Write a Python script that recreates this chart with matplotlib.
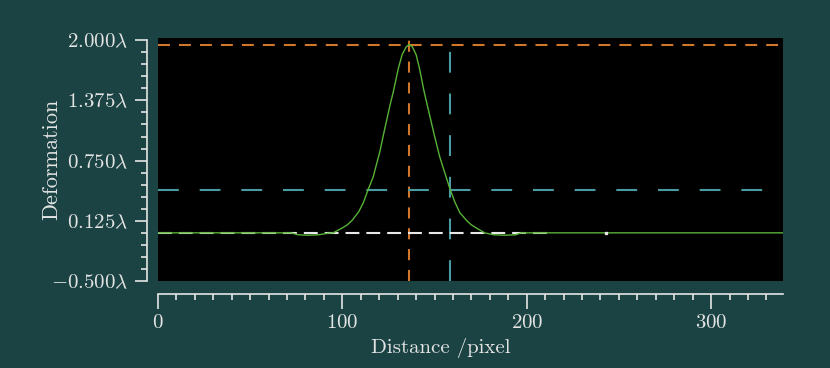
import matplotlib
matplotlib.use('Agg')
from matplotlib import pyplot as plt
from matplotlib.ticker import FixedLocator, MultipleLocator

plt.rcParams['font.family'] = 'cmr10'
plt.rcParams['mathtext.fontset'] = 'cm'
plt.rcParams['axes.formatter.use_mathtext'] = True
plt.rcParams['lines.scale_dashes'] = False

# profile (distance in pixel, deformation in wavelengths)
dist = [0, 20, 40, 60, 72, 76, 81, 87, 92, 95, 99.9, 102.8, 105.3, 108.9, 111.3, 114, 116.7,
        120.3, 122.3, 125.9, 127.7, 130.4, 132.4, 134.6, 136.3, 138.0, 140.0,
        141.8, 144.3, 146.0, 149.8, 152.8, 155.6, 158.3, 161, 163.7, 167.3,
        169.8, 172.7, 177.2, 182, 188, 194, 197, 250, 300, 339]
deform = [0, 0, 0, 0, 0, -0.02, -0.025, -0.02, -0.005, 0.0, 0.05, 0.085, 0.13, 0.22, 0.31, 0.45, 0.58,
          0.84, 1.02, 1.33, 1.47, 1.71, 1.85, 1.93, 1.957, 1.93, 1.85,
          1.71, 1.47, 1.33, 1.02, 0.79, 0.62, 0.46, 0.32, 0.21, 0.13,
          0.085, 0.05, 0.0, -0.02, -0.025, -0.02, 0, 0, 0, 0]

peak_x = 136.3
peak_y = 1.95
half_x = 158.4
half_y = 0.446
base_end = 211

yticks = [-0.5, 0.125, 0.75, 1.375, 2.0]
ylabels = [r'$-0.500\lambda$', r'$0.125\lambda$', r'$0.750\lambda$', r'$1.375\lambda$', r'$2.000\lambda$']

bg = '#1b4343'
fg = '#e4e4e4'

fig = plt.figure(figsize=(8.3, 3.68), dpi=100, facecolor=bg)
ax = fig.add_axes([158/830, 1 - 281/368, 625/830, 243/368])
ax.set_facecolor('black')

ax.axhline(peak_y, color='#d0772c', lw=1.5, dashes=(8.6, 6.5))
ax.axvline(peak_x, color='#d0772c', lw=1.5, dashes=(8.0, 7.0))
ax.axhline(half_y, color='#4a9aa2', lw=1.5, dashes=(15, 15))
ax.axvline(half_x, color='#4a9aa2', lw=1.5, dashes=(15, 15))
ax.plot([0, base_end], [0, 0], color='#e8e8e8', lw=1.5, dashes=(10, 5))
ax.plot(dist, deform, color='#57b336', lw=1.0)
ax.plot([243], [0], 's', color='#e8e8e8', ms=2)

ax.set_xlim(0, 339)
ax.set_ylim(-0.5, 2.023)

for s in ['top', 'right']:
    ax.spines[s].set_visible(False)
ax.spines['left'].set_position(('outward', 8))
ax.spines['bottom'].set_position(('outward', 9.5))
ax.spines['left'].set_bounds(-0.5, 2.0)
ax.spines['bottom'].set_bounds(0, 339)
for s in ['left', 'bottom']:
    ax.spines[s].set_color(fg)
    ax.spines[s].set_linewidth(1.2)

ax.yaxis.set_major_locator(FixedLocator(yticks))
ax.set_yticklabels(ylabels)
ax.yaxis.set_minor_locator(MultipleLocator(0.125))
ax.xaxis.set_major_locator(MultipleLocator(100))
ax.xaxis.set_minor_locator(MultipleLocator(10))

ax.tick_params(colors=fg, labelsize=15, width=1.2)
ax.tick_params(axis='y', which='major', length=9, pad=4.5)
ax.tick_params(axis='y', which='minor', length=4.5, width=1.2, color=fg)
ax.tick_params(axis='x', which='major', length=10.5, pad=4)
ax.tick_params(axis='x', which='minor', length=4.5, width=1.2, color=fg)

ax.set_xlabel('Distance /pixel', color=fg, fontsize=15)
ax.set_ylabel('Deformation', color=fg, fontsize=16)
ax.xaxis.set_label_coords(0.453, -0.236)
ax.yaxis.set_label_coords(-0.155, 0.5)

fig.savefig('out.png', dpi=100, facecolor=bg)
